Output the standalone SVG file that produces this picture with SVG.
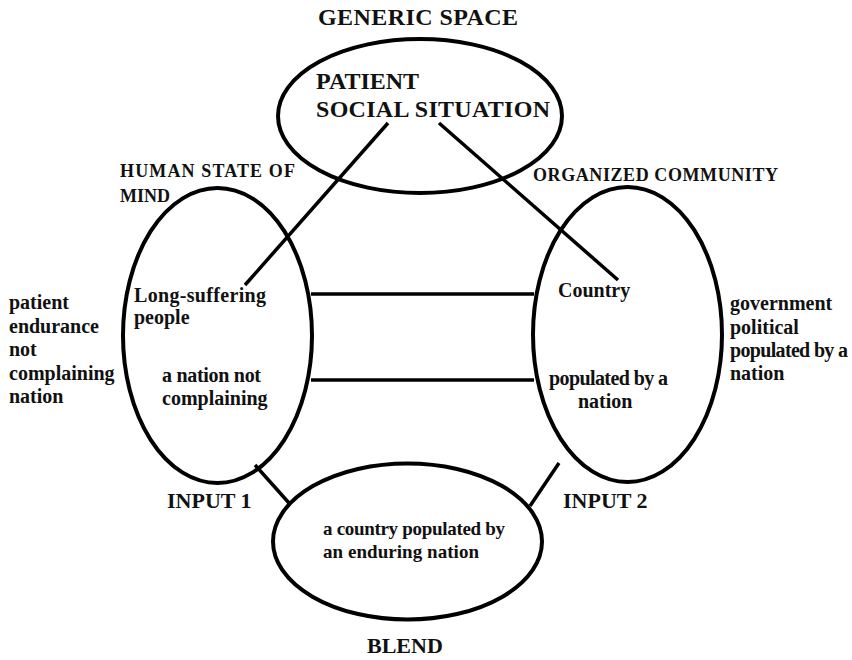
<svg xmlns="http://www.w3.org/2000/svg" width="852" height="660" viewBox="0 0 852 660">
<style>
text{font-family:"Liberation Serif","Times New Roman",serif;font-weight:bold;fill:#111}
.sh{fill:none;stroke:#000;stroke-width:4}
.ln{stroke:#000;stroke-width:3.5;fill:none}
.big{font-size:24px}
.hd{font-size:22px}
.lb{font-size:18px}
.t{font-size:20px}
.s{font-size:19px}
</style>
<rect width="852" height="660" fill="#fff"/>
<g id="connectors">
<line class="ln" x1="388" y1="123" x2="245" y2="285"/>
<line class="ln" x1="439" y1="123" x2="618" y2="280"/>
<line class="ln" x1="311" y1="294" x2="534" y2="294"/>
<line class="ln" x1="311" y1="380" x2="534" y2="380"/>
<line class="ln" x1="255" y1="465" x2="289" y2="503"/>
<line class="ln" x1="559" y1="463" x2="530" y2="506"/>
</g>
<g id="generic">
<ellipse class="sh" cx="420" cy="116" rx="142" ry="77"/>
<text class="big" x="318" y="25" textLength="200">GENERIC SPACE</text>
<text class="big" x="316" y="89">PATIENT</text>
<text class="big" x="316" y="117" textLength="234">SOCIAL SITUATION</text>
</g>
<g id="input1">
<ellipse class="sh" cx="217.5" cy="335.5" rx="94.5" ry="147.5"/>
<text class="lb" x="120" y="177" textLength="175">HUMAN STATE OF</text>
<text class="lb" x="120" y="202">MIND</text>
<text class="t" x="134" y="302" textLength="132">Long-suffering</text>
<text class="t" x="134" y="324">people</text>
<text class="t" x="162" y="382" textLength="99">a nation not</text>
<text class="t" x="162" y="405">complaining</text>
<text class="hd" x="167" y="508">INPUT 1</text>
</g>
<g id="input1-notes">
<text class="t" x="9" y="309">patient</text>
<text class="t" x="9" y="333">endurance</text>
<text class="t" x="9" y="356">not</text>
<text class="t" x="9" y="380">complaining</text>
<text class="t" x="9" y="403">nation</text>
</g>
<g id="input2">
<ellipse class="sh" cx="627.5" cy="334.5" rx="94.5" ry="147.5"/>
<text class="lb" x="533" y="181" textLength="245">ORGANIZED COMMUNITY</text>
<text class="t" x="558" y="297">Country</text>
<text class="t" x="549" y="385" textLength="119">populated by a</text>
<text class="t" x="578" y="408">nation</text>
<text class="hd" x="563" y="508">INPUT 2</text>
</g>
<g id="input2-notes">
<text class="t" x="730" y="310">government</text>
<text class="t" x="730" y="334">political</text>
<text class="t" x="730" y="357" textLength="118">populated by a</text>
<text class="t" x="730" y="380">nation</text>
</g>
<g id="blend">
<ellipse class="sh" cx="407.5" cy="541.5" rx="134.5" ry="78"/>
<text class="s" x="323" y="535" textLength="182">a country populated by</text>
<text class="s" x="323" y="558" textLength="156">an enduring nation</text>
<text class="hd" x="367" y="653">BLEND</text>
</g>
</svg>
